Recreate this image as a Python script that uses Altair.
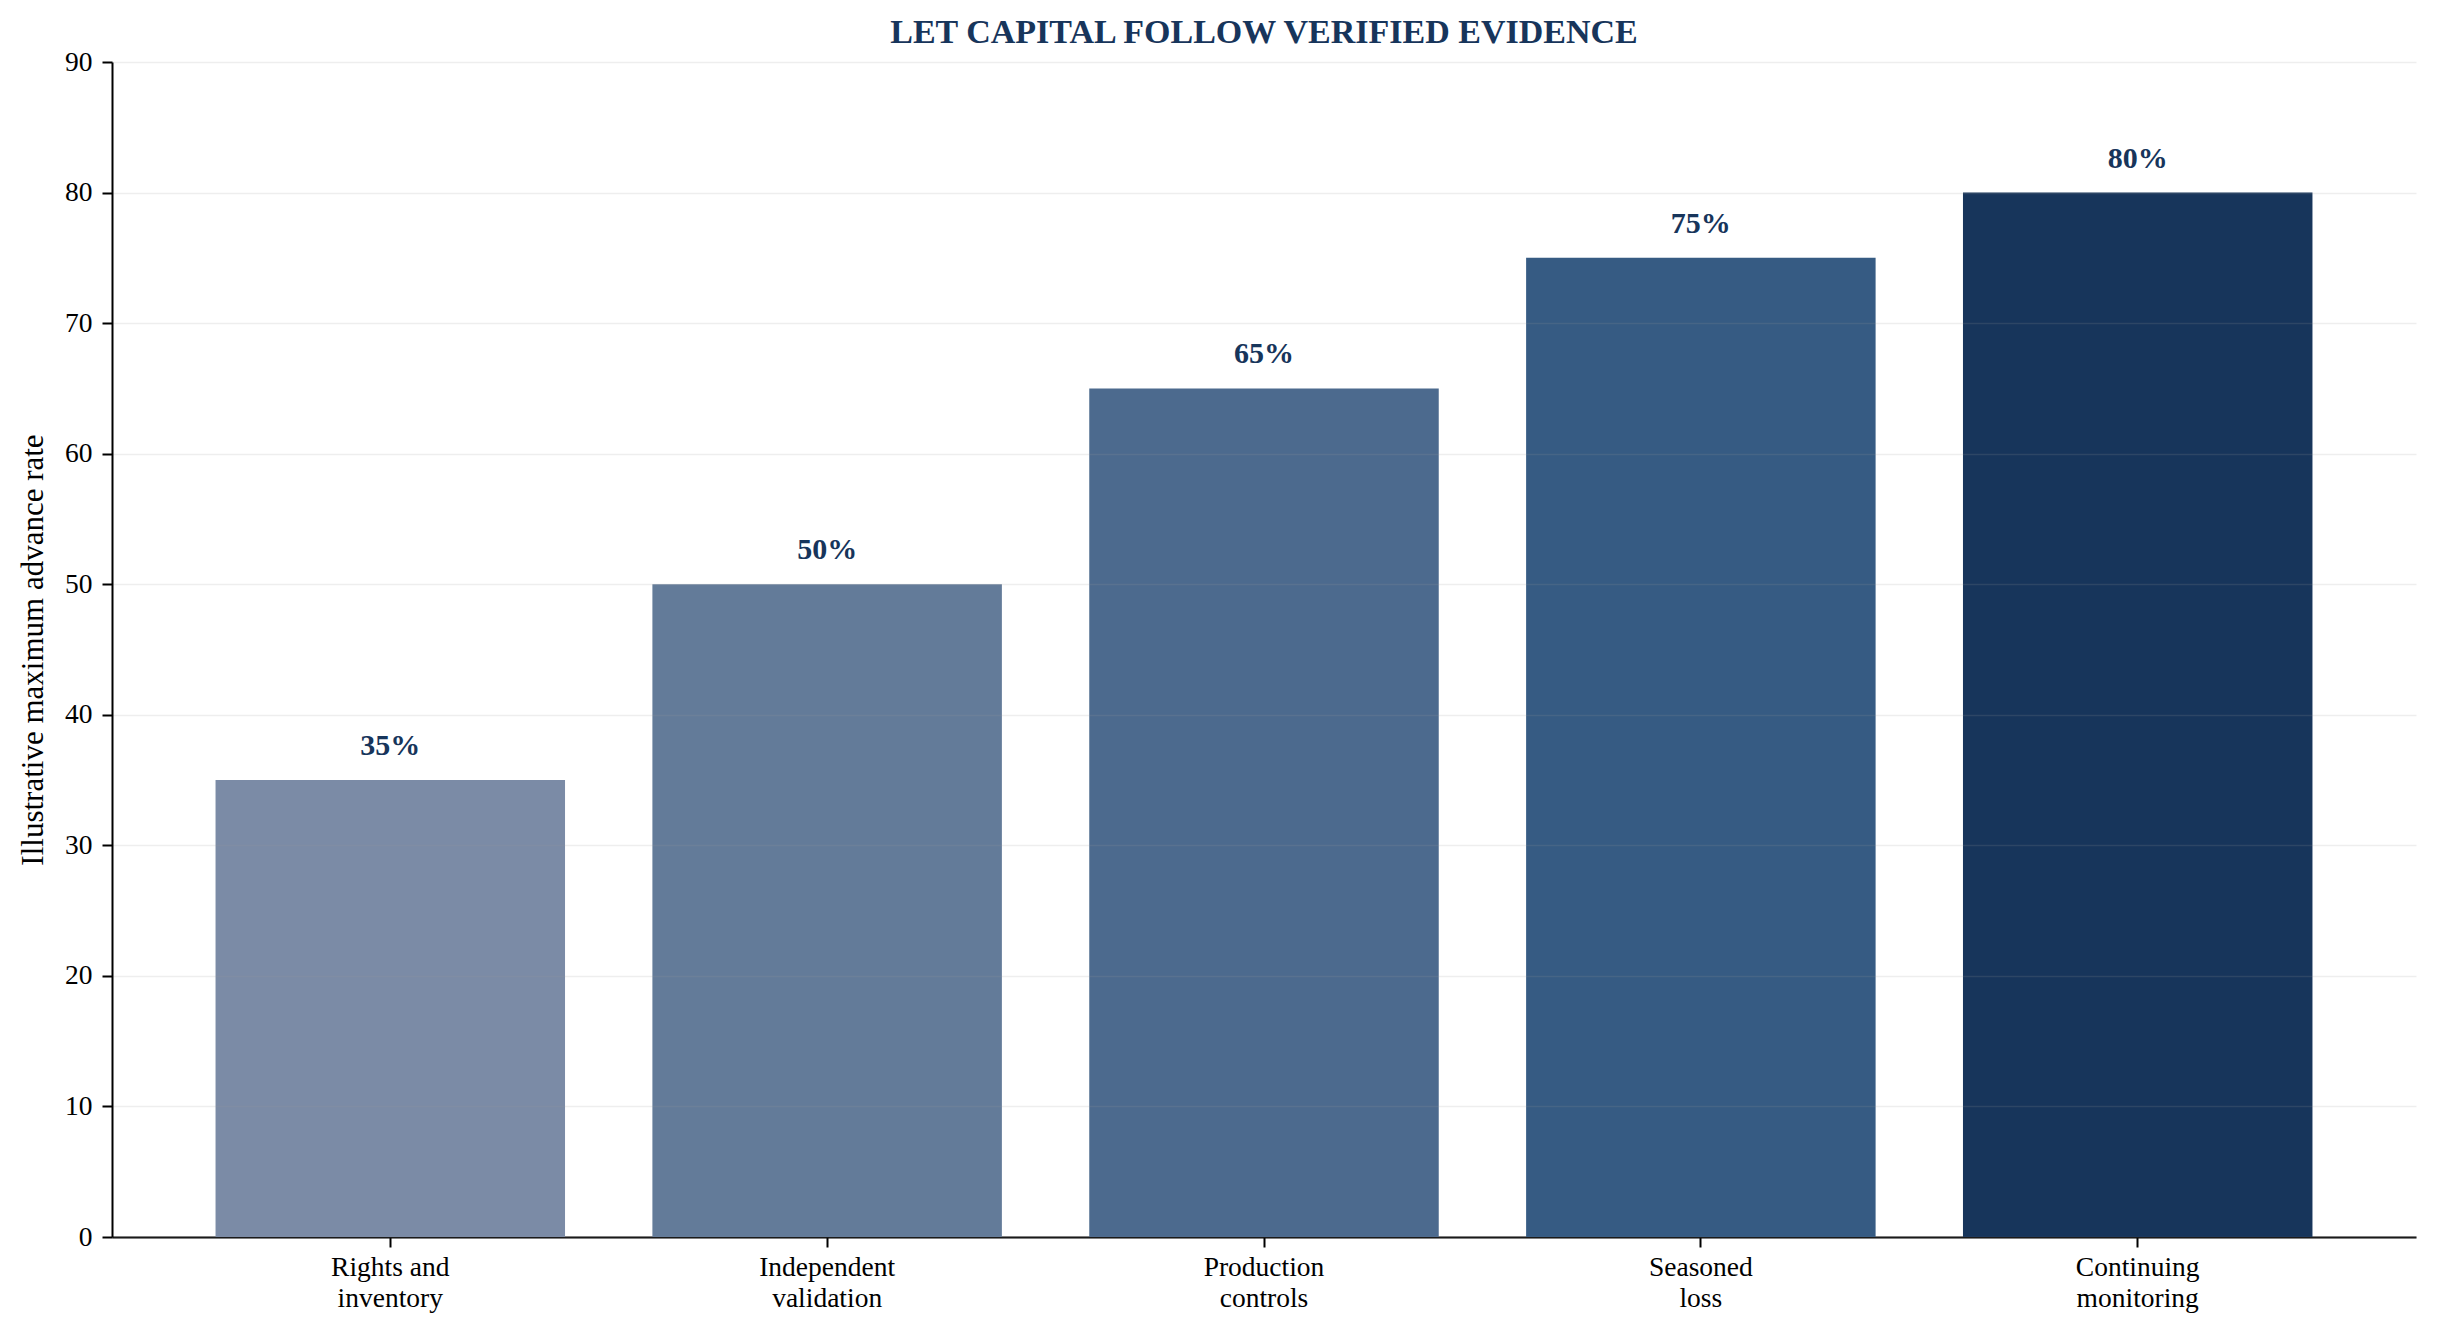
import altair as alt
import pandas as pd

categories = ["Rights and\ninventory", "Independent\nvalidation", "Production\ncontrols",
              "Seasoned\nloss", "Continuing\nmonitoring"]
values = [35, 50, 65, 75, 80]
colors = ["#7b8ba6", "#637b99", "#4c6a8e", "#365b83", "#17355b"]
y_ticks = [0, 10, 20, 30, 40, 50, 60, 70, 80, 90]

df = pd.DataFrame({"stage": categories, "rate": values})

FONT = "Liberation Serif"
NAVY = "#17355b"
W, H = 2304, 1175

x = alt.X("stage:N", sort=categories,
          scale=alt.Scale(paddingInner=0.2, paddingOuter=0.237),
          axis=alt.Axis(title=None, labelAngle=0, labelExpr="split(datum.label, '\\n')",
                        labelFont=FONT, labelFontSize=27.5, labelColor="#000000",
                        labelLineHeight=31, labelPadding=6, labelBaseline="top",
                        tickSize=10, tickWidth=2, tickColor="#000000",
                        domainColor="#000000", domainWidth=2, grid=False))
y = alt.Y("rate:Q", scale=alt.Scale(domain=[0, 90], nice=False, zero=True),
          axis=alt.Axis(values=y_ticks, title="Illustrative maximum advance rate",
                        titleFont=FONT, titleFontSize=31, titleFontWeight="normal",
                        titleColor="#000000", titleX=-79, titleY=H / 2,
                        titleAngle=-90, titleBaseline="middle", titleAlign="center",
                        labelFont=FONT, labelFontSize=27.5, labelColor="#000000",
                        labelPadding=10, tickSize=10, tickWidth=2, tickColor="#000000",
                        domainColor="#000000", domainWidth=2,
                        grid=True, gridColor="#999999", gridOpacity=0.17, gridWidth=1.5,
                        zindex=1))

bars = alt.Chart(df).mark_bar(size=0.8 * W / 5.274).encode(
    x=x, y=y,
    color=alt.Color("stage:N", sort=categories,
                    scale=alt.Scale(domain=categories, range=colors), legend=None),
)

labels = alt.Chart(df).transform_calculate(
    lab="datum.rate + '%'"
).mark_text(font=FONT, fontSize=30, fontWeight="bold", color=NAVY,
            baseline="alphabetic", dy=-25).encode(
    x=alt.X("stage:N", sort=categories), y=alt.Y("rate:Q"), text="lab:N"
)

chart = alt.layer(bars, labels).properties(
    width=W, height=H,
    background="white",
    title=alt.TitleParams("LET CAPITAL FOLLOW VERIFIED EVIDENCE", font=FONT, fontSize=34,
                          fontWeight="bold", color=NAVY, anchor="middle", offset=-2),
    autosize=alt.AutoSizeParams(type="none"),
    padding={"left": 104, "top": 54, "right": 15, "bottom": 90},
).configure_view(strokeWidth=0, stroke="transparent")

chart.save("out.html", embed_options={"renderer": "svg", "actions": False})
